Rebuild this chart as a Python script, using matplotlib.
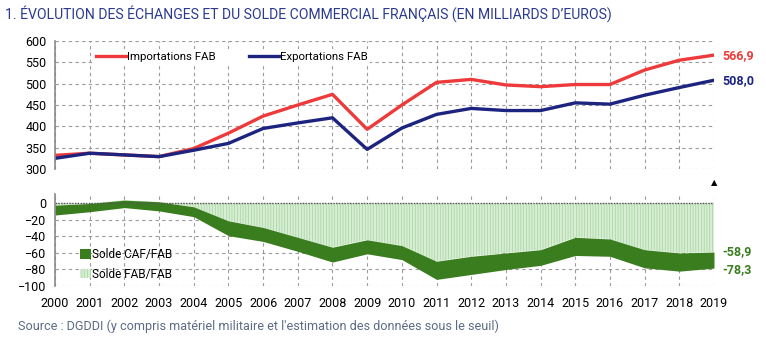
import matplotlib
matplotlib.use("Agg")
import matplotlib.pyplot as plt
from matplotlib.patches import Patch

plt.rcParams["font.family"] = ["Roboto", "DejaVu Sans"]
plt.rcParams["hatch.linewidth"] = 0.5

RED = "#ee3a3a"
NAVY = "#1c2480"
DKGREEN = "#3a7d1f"
LTGREEN = "#d8eed4"
HATCH = "#a3d49b"
GRID = "#9a9a9a"
TITLE = "#2b3a8f"
SOURCE = "#5b6b86"

years = list(range(2000, 2020))
imports_fab = [332, 337, 333, 329, 348, 384, 424, 450, 475, 393, 450, 503,
               510, 497, 493, 498, 498, 532, 555, 566.9]
exports_fab = [325, 337, 333, 329, 344, 360, 395, 408, 420, 346, 396, 428,
               442, 437, 437, 455, 452, 473, 491, 508.0]
solde_fab_fab = [-2, 0, 4, 2, -4, -21, -29, -41, -53, -44, -51, -70,
                 -64, -60, -56, -41, -43, -56, -60, -58.9]
solde_caf_fab = [-14, -10, -5, -9, -16, -39, -46, -58, -71, -61, -68, -92,
                 -86, -80, -75, -63, -64, -78, -82, -78.3]


def fr(v):
    return f"{v:.1f}".replace(".", ",")


fig = plt.figure(figsize=(7.66, 3.38), dpi=100)
L, R = 55 / 766, 714 / 766
ax1 = fig.add_axes([L, 1 - 169 / 338, R - L, 128 / 338])
ax2 = fig.add_axes([L, 1 - 286 / 338, R - L, 91.6 / 338])

for ax in (ax1, ax2):
    for s in ("top", "right", "bottom"):
        ax.spines[s].set_visible(False)
    ax.spines["left"].set_color("#8a8a8a")
    ax.spines["left"].set_linewidth(1.2)
    ax.set_xlim(2000, 2019)
    ax.set_xticks(years)
    ax.grid(True, color=GRID, linestyle=(0, (3, 3)), linewidth=0.8)
    ax.set_axisbelow(True)
    ax.tick_params(length=0, labelsize=9, pad=6)

# top: imports / exports
ax1.plot(years, imports_fab, color=RED, lw=2.4, label="Importations FAB")
ax1.plot(years, exports_fab, color=NAVY, lw=2.4, label="Exportations FAB")
ax1.set_ylim(300, 600)
ax1.set_yticks(range(300, 601, 50))
ax1.tick_params(axis="x", labelbottom=False)
ax1.text(2019.25, imports_fab[-1], fr(imports_fab[-1]),
         color=RED, fontsize=9, fontweight="bold", va="center")
ax1.text(2019.25, exports_fab[-1], fr(exports_fab[-1]),
         color=NAVY, fontsize=9, fontweight="bold", va="center")
ax1.legend(loc="upper left", bbox_to_anchor=(0.05, 0.98), ncol=2,
           frameon=True, facecolor="white", edgecolor="none",
           fontsize=8.2, handlelength=2.6, handletextpad=0.1,
           columnspacing=3.0, borderpad=0.2, framealpha=1)

# bottom: trade balance
ax2.fill_between(years, 0, solde_fab_fab, facecolor=LTGREEN, edgecolor=HATCH,
                 hatch="||||||", linewidth=0)
ax2.fill_between(years, solde_fab_fab, solde_caf_fab, color=DKGREEN, lw=0)
ax2.axhline(0, color="#555555", lw=1.0, linestyle=(0, (1, 1)))
ax2.set_ylim(-100, 11)
ax2.set_yticks(range(-100, 1, 20))
ax2.set_xticklabels([str(y) for y in years])
ax2.tick_params(axis="x", pad=8)
ax2.text(2019.25, solde_fab_fab[-1] + 1, fr(solde_fab_fab[-1]),
         color=DKGREEN, fontsize=9, fontweight="bold", va="center")
ax2.text(2019.25, solde_caf_fab[-1] - 2, fr(solde_caf_fab[-1]),
         color=DKGREEN, fontsize=9, fontweight="bold", va="center")
handles = [Patch(facecolor=DKGREEN, edgecolor="none"),
           Patch(facecolor=LTGREEN, edgecolor=HATCH, hatch="||||||", lw=0)]
ax2.legend(handles, ["Solde CAF/FAB", "Solde FAB/FAB"], loc="lower left",
           bbox_to_anchor=(0.038, 0.06), frameon=False, fontsize=8.5,
           handlelength=0.9, handleheight=0.9, handletextpad=0.15,
           labelspacing=0.55, borderpad=0, borderaxespad=0)

# provisional marker for 2019
fig.text(714 / 766, 1 - 183 / 338, "▲", ha="center", va="center",
         fontsize=6, color="black", family="DejaVu Sans")

fig.text(5 / 766, 1 - 14 / 338,
         "1. ÉVOLUTION DES ÉCHANGES ET DU SOLDE COMMERCIAL FRANÇAIS (EN MILLIARDS D’EUROS)",
         color=TITLE, fontsize=10.1, va="center", ha="left")
fig.text(18 / 766, 1 - 326 / 338,
         "Source : DGDDI (y compris matériel militaire et l'estimation des données sous le seuil)",
         color=SOURCE, fontsize=9.1, va="center", ha="left")

fig.savefig("out.png", dpi=100, facecolor="white")
